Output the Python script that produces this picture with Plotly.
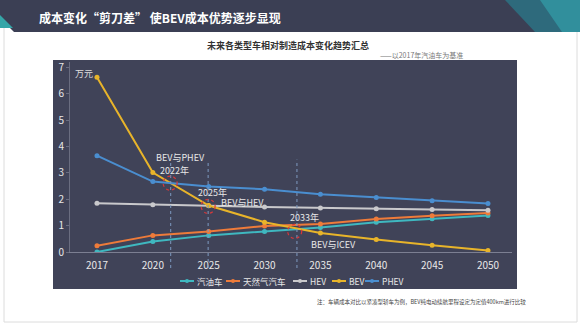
import plotly.graph_objects as go

W, H = 580, 326

years = ["2017", "2020", "2025", "2030", "2035", "2040", "2045", "2050"]
gasoline = [0.0, 0.40, 0.63, 0.78, 0.93, 1.13, 1.26, 1.38]
natgas = [0.24, 0.63, 0.78, 0.99, 1.06, 1.25, 1.37, 1.48]
hev = [1.85, 1.79, 1.75, 1.71, 1.67, 1.64, 1.61, 1.58]
bev = [6.62, 3.01, 1.76, 1.13, 0.72, 0.47, 0.26, 0.06]
phev = [3.65, 2.67, 2.48, 2.38, 2.19, 2.07, 1.94, 1.84]

series_names = ["汽油车", "天然气汽车", "HEV", "BEV", "PHEV"]
series_vals = [gasoline, natgas, hev, bev, phev]
series_colors = ["#3fb8c0", "#ee7b3a", "#c9c9cc", "#e8b42a", "#4a8ed0"]

y_ticks = [0, 1, 2, 3, 4, 5, 6, 7]

FONT = "Noto Sans CJK SC"

# plot-area geometry (pixels)
PL, PR, PT, PB = 70, 512, 62, 252
XR = [-0.483, 7.43]
YR = [0, 7.2]


def px(x):
    return x / W


def py(y):
    return 1 - y / H


def cat_to_paper(i):
    return px(PL + (i - XR[0]) / (XR[1] - XR[0]) * (PR - PL))


def val_to_paper(v):
    return py(PB - (v - YR[0]) / (YR[1] - YR[0]) * (PB - PT))


fig = go.Figure()
for name, vals, col in zip(series_names, series_vals, series_colors):
    fig.add_trace(go.Scatter(
        x=years, y=vals, name=name, mode="lines+markers",
        line=dict(color=col, width=2),
        marker=dict(color=col, size=5),
        showlegend=False,
    ))

shapes = []
# slide frame
shapes.append(dict(type="rect", xref="paper", yref="paper", x0=px(4), x1=px(577), y0=py(322), y1=py(0),
                   line=dict(color="#dcdcdc", width=1), fillcolor="white", layer="below"))
# header bar
shapes.append(dict(type="path", xref="paper", yref="paper",
                   path=f"M {px(0)},{py(0)} L {px(580)},{py(0)} L {px(580)},{py(32)} L {px(14)},{py(32)} L {px(0)},{py(18)} Z",
                   fillcolor="#3b3f54", line=dict(width=0), layer="below"))
shapes.append(dict(type="path", xref="paper", yref="paper",
                   path=f"M {px(0)},{py(15)} L {px(13)},{py(28)} L {px(0)},{py(28)} Z",
                   fillcolor="#35a6a8", line=dict(width=0), layer="below"))
shapes.append(dict(type="path", xref="paper", yref="paper",
                   path=f"M {px(505)},{py(0)} L {px(580)},{py(0)} L {px(580)},{py(32)} L {px(535)},{py(32)} Z",
                   fillcolor="#2e6a7c", line=dict(width=0), layer="below"))
shapes.append(dict(type="path", xref="paper", yref="paper",
                   path=f"M {px(540)},{py(0)} L {px(580)},{py(0)} L {px(580)},{py(32)} L {px(562)},{py(32)} Z",
                   fillcolor="#318f9c", line=dict(width=0), layer="below"))
# chart panel
shapes.append(dict(type="rect", xref="paper", yref="paper", x0=px(53), x1=px(517), y0=py(289), y1=py(60),
                   fillcolor="#404358", line=dict(width=0), layer="below"))

# vertical dashed guide lines (category index positions), extend below the axis
for xi, ytop in [(1.32, 3.38), (1.99, 3.38), (3.58, 3.5)]:
    xp = cat_to_paper(xi)
    shapes.append(dict(type="line", xref="paper", yref="paper", x0=xp, x1=xp,
                       y0=py(268), y1=val_to_paper(ytop),
                       line=dict(color="#7d9ac0", width=1, dash="dot"), layer="above"))

# dashed red circles at crossings
for xi, yv in [(1.31, 2.61), (1.99, 1.73), (3.54, 0.78)]:
    shapes.append(dict(type="circle", xref="x", yref="y", xsizemode="pixel", ysizemode="pixel",
                       xanchor=xi, yanchor=yv, x0=-7, x1=7, y0=-7, y1=7,
                       line=dict(color="#d8383a", width=1.2, dash="dot"), layer="above"))

ann = []
ann.append(dict(text="<b>成本变化“剪刀差” 使BEV成本优势逐步显现</b>", xref="paper", yref="paper",
                x=px(37), y=py(17), xanchor="left", yanchor="middle", showarrow=False,
                font=dict(family=FONT, size=12, color="white")))
ann.append(dict(text="<b>未来各类型车相对制造成本变化趋势汇总</b>", xref="paper", yref="paper",
                x=px(288), y=py(46), xanchor="center", yanchor="middle", showarrow=False,
                font=dict(family=FONT, size=9, color="#333333")))
ann.append(dict(text="——以2017年汽油车为基准", xref="paper", yref="paper",
                x=px(378), y=py(55), xanchor="left", yanchor="middle", showarrow=False,
                font=dict(family=FONT, size=7, color="#777777")))
ann.append(dict(text="注：车辆成本对比以紧凑型轿车为例，BEV纯电动续航里程设定为定值400km进行比较", xref="paper", yref="paper",
                x=px(528), y=py(302), xanchor="right", yanchor="middle", showarrow=False,
                font=dict(family=FONT, size=5.5, color="#444444")))
ann.append(dict(text="万元", xref="paper", yref="paper", x=px(84), y=py(73), xanchor="center", yanchor="middle",
                showarrow=False, font=dict(family=FONT, size=9, color="#dddddd")))

labels = [("BEV与PHEV", 1.49, 3.57), ("2022年", 1.39, 3.07), ("2025年", 2.07, 2.27),
          ("BEV与HEV", 2.6, 1.87), ("2033年", 3.72, 1.29), ("BEV与ICEV", 4.23, 0.28)]
for t, xi, yv in labels:
    ann.append(dict(text=t, xref="x", yref="y", x=xi, y=yv, showarrow=False,
                    xanchor="center", yanchor="middle",
                    font=dict(family=FONT, size=9, color="#e8e8e8")))

# custom compact legend
legend_x = [180, 226, 293, 332, 365]
LY = 281
for name, col, x0 in zip(series_names, series_colors, legend_x):
    shapes.append(dict(type="line", xref="paper", yref="paper", x0=px(x0), x1=px(x0 + 14),
                       y0=py(LY), y1=py(LY), line=dict(color=col, width=2)))
    shapes.append(dict(type="circle", xref="paper", yref="paper", x0=px(x0 + 5), x1=px(x0 + 9),
                       y0=py(LY + 2), y1=py(LY - 2), fillcolor=col, line=dict(width=0)))
    ann.append(dict(text=name, xref="paper", yref="paper", x=px(x0 + 15), y=py(LY),
                    xanchor="left", yanchor="middle", showarrow=False,
                    font=dict(family=FONT, size=8.5, color="#e8e8e8")))

fig.update_layout(
    width=W, height=H,
    margin=dict(l=0, r=0, t=0, b=0),
    paper_bgcolor="white",
    plot_bgcolor="rgba(0,0,0,0)",
    shapes=shapes,
    annotations=ann,
    showlegend=False,
    xaxis=dict(domain=[px(PL), px(PR)], type="category", range=XR,
               showgrid=False, zeroline=False, showline=True, linecolor="#7c7f92", linewidth=1,
               ticks="", tickfont=dict(family=FONT, size=10, color="#e8e8e8"),
               ticklabelstandoff=4, automargin=False),
    yaxis=dict(domain=[1 - PB / H, 1 - PT / H], range=YR, tickvals=y_ticks,
               showgrid=False, zeroline=False, showline=True, linecolor="#6a6d80", linewidth=1,
               ticks="outside", ticklen=3, tickcolor="#6a6d80",
               tickfont=dict(family=FONT, size=10, color="#e8e8e8"), automargin=False),
)

fig.write_html("out.html")
